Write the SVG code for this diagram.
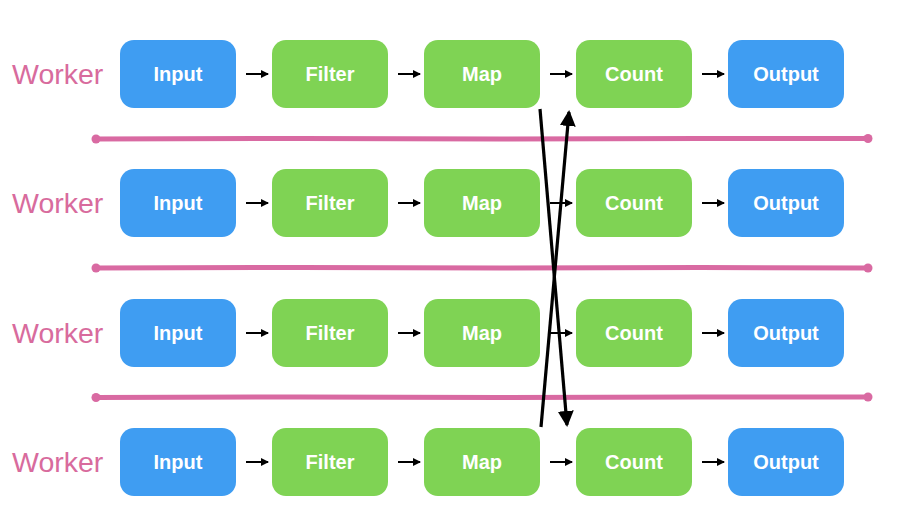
<svg xmlns="http://www.w3.org/2000/svg" width="910" height="530" viewBox="0 0 910 530">
<style>
.bl{fill:#3f9df2}
.gr{fill:#7fd354}
.t{font-family:"Liberation Sans",Arial,sans-serif;font-weight:bold;font-size:20px;fill:#fff;text-anchor:middle}
.w{font-family:"Liberation Sans",Arial,sans-serif;font-size:28.5px;fill:#d86b9d}
.div{stroke:#d96aa2;stroke-width:5;stroke-linecap:round;fill:none}
.a{stroke:#000;stroke-width:2;fill:none}
.x{stroke:#000;stroke-width:3.2;fill:none}
</style>
<defs>
<marker id="ah" markerWidth="8" markerHeight="8" refX="7" refY="4" orient="auto" markerUnits="userSpaceOnUse"><path d="M0,0 L8,4 L0,8 Z" fill="#000"/></marker>
<marker id="ahb" markerWidth="16" markerHeight="16" refX="14" refY="8" orient="auto" markerUnits="userSpaceOnUse"><path d="M0,0 L16,8 L0,16 Z" fill="#000"/></marker>
<g id="row">
<rect class="bl" x="120" y="0" width="116" height="68" rx="14"/>
<text class="t" x="178" y="41">Input</text>
<rect class="gr" x="272" y="0" width="116" height="68" rx="14"/>
<text class="t" x="330" y="41">Filter</text>
<rect class="gr" x="424" y="0" width="116" height="68" rx="14"/>
<text class="t" x="482" y="41">Map</text>
<rect class="gr" x="576" y="0" width="116" height="68" rx="14"/>
<text class="t" x="634" y="41">Count</text>
<rect class="bl" x="728" y="0" width="116" height="68" rx="14"/>
<text class="t" x="786" y="41">Output</text>
</g>
</defs>
<g id="dividers">
<path class="div" d="M96,139 L300,138.5 L500,139 L700,138.5 L868,138.5"/>
<circle cx="96" cy="139" r="4.5" fill="#d96aa2"/><circle cx="868" cy="138.5" r="4.5" fill="#d96aa2"/>
<path class="div" d="M96,268 L300,267.5 L500,268 L700,267.5 L868,268"/>
<circle cx="96" cy="268" r="4.5" fill="#d96aa2"/><circle cx="868" cy="268" r="4.5" fill="#d96aa2"/>
<path class="div" d="M96,397.5 L300,397 L500,397.5 L700,397 L868,397"/>
<circle cx="96" cy="397.5" r="4.5" fill="#d96aa2"/><circle cx="868" cy="397" r="4.5" fill="#d96aa2"/>
</g>
<g id="worker1"><text class="w" x="12" y="84">Worker</text><use href="#row" y="40"/></g>
<g id="worker2"><text class="w" x="12" y="213">Worker</text><use href="#row" y="169"/></g>
<g id="worker3"><text class="w" x="12" y="343">Worker</text><use href="#row" y="299"/></g>
<g id="worker4"><text class="w" x="12" y="472">Worker</text><use href="#row" y="428"/></g>
<g id="connectors">
<line class="a" x1="246" y1="74" x2="268" y2="74" marker-end="url(#ah)"/>
<line class="a" x1="398" y1="74" x2="420" y2="74" marker-end="url(#ah)"/>
<line class="a" x1="550" y1="74" x2="572" y2="74" marker-end="url(#ah)"/>
<line class="a" x1="702" y1="74" x2="724" y2="74" marker-end="url(#ah)"/>
<line class="a" x1="246" y1="203" x2="268" y2="203" marker-end="url(#ah)"/>
<line class="a" x1="398" y1="203" x2="420" y2="203" marker-end="url(#ah)"/>
<line class="a" x1="550" y1="203" x2="572" y2="203" marker-end="url(#ah)"/>
<line class="a" x1="702" y1="203" x2="724" y2="203" marker-end="url(#ah)"/>
<line class="a" x1="246" y1="333" x2="268" y2="333" marker-end="url(#ah)"/>
<line class="a" x1="398" y1="333" x2="420" y2="333" marker-end="url(#ah)"/>
<line class="a" x1="550" y1="333" x2="572" y2="333" marker-end="url(#ah)"/>
<line class="a" x1="702" y1="333" x2="724" y2="333" marker-end="url(#ah)"/>
<line class="a" x1="246" y1="462" x2="268" y2="462" marker-end="url(#ah)"/>
<line class="a" x1="398" y1="462" x2="420" y2="462" marker-end="url(#ah)"/>
<line class="a" x1="550" y1="462" x2="572" y2="462" marker-end="url(#ah)"/>
<line class="a" x1="702" y1="462" x2="724" y2="462" marker-end="url(#ah)"/>
<line class="x" x1="540" y1="109" x2="567" y2="425" marker-end="url(#ahb)"/>
<line class="x" x1="541" y1="427" x2="569" y2="112" marker-end="url(#ahb)"/>
</g>
</svg>
